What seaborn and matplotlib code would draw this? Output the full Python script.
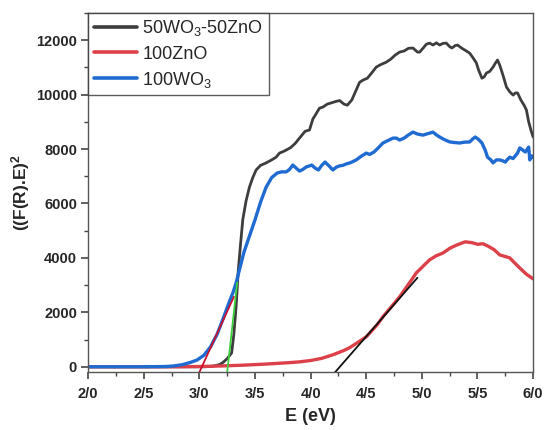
import matplotlib
matplotlib.use("Agg")
import matplotlib.pyplot as plt
from matplotlib.ticker import MultipleLocator, FixedLocator, FixedFormatter
import numpy as np
import pandas as pd
import seaborn as sns

# Photon energy (eV) and (F(R).E)^2 for each sample
e_mix = [2.0, 2.5, 2.9, 3.05, 3.12, 3.18, 3.21, 3.25, 3.29, 3.31, 3.33, 3.35, 3.37, 3.39,
         3.42, 3.45, 3.48, 3.51, 3.55, 3.60, 3.65, 3.69, 3.72, 3.75, 3.78, 3.82, 3.86, 3.90,
         3.95, 3.99, 4.02, 4.05, 4.08, 4.11, 4.15, 4.19, 4.23, 4.26, 4.30, 4.33, 4.37, 4.41,
         4.44, 4.47, 4.51, 4.55, 4.59, 4.63, 4.68, 4.72, 4.76, 4.80, 4.84, 4.88, 4.92, 4.96,
         4.98, 5.01, 5.04, 5.07, 5.10, 5.13, 5.16, 5.19, 5.22, 5.25, 5.27, 5.30, 5.32, 5.36,
         5.40, 5.43, 5.46, 5.49, 5.51, 5.54, 5.56, 5.58, 5.61, 5.64, 5.66, 5.68, 5.70, 5.73,
         5.76, 5.79, 5.82, 5.84, 5.86, 5.89, 5.92, 5.94, 5.96, 5.98, 6.00]
f_mix = [0, 0, 0, 0, 20, 80, 150, 300, 510, 1200, 2200, 3560, 4500, 5400,
         6100, 6600, 6950, 7230, 7400, 7490, 7600, 7700, 7850, 7900, 7960, 8050, 8200, 8400,
         8650, 8700, 9100, 9300, 9500, 9540, 9650, 9700, 9750, 9780, 9650, 9610, 9800, 10170,
         10450, 10530, 10600, 10800, 11010, 11100, 11190, 11300, 11450, 11560, 11600, 11700, 11710, 11560,
         11560, 11700, 11850, 11890, 11820, 11900, 11820, 11880, 11890, 11760, 11710, 11800, 11820, 11700,
         11600, 11520, 11350, 11160, 10900, 10600, 10650, 10790, 10850, 11010, 11150, 11270, 11080, 10700,
         10280, 10100, 9980, 10060, 10060, 9800, 9600, 9430, 9000, 8700, 8440]

e_zno = [2.0, 2.5, 2.8, 3.0, 3.2, 3.4, 3.6, 3.8, 3.9, 4.0, 4.1, 4.2, 4.3, 4.35, 4.4, 4.5,
         4.6, 4.65, 4.7, 4.8, 4.9, 4.95, 5.0, 5.07, 5.13, 5.19, 5.25, 5.3, 5.35, 5.39, 5.45,
         5.5, 5.55, 5.6, 5.65, 5.7, 5.75, 5.79, 5.85, 5.88, 5.94, 6.0]
f_zno = [0, 0, 0, 10, 30, 60, 100, 150, 180, 230, 310, 440, 600, 700, 830, 1100,
         1550, 1840, 2080, 2570, 3150, 3450, 3650, 3930, 4080, 4180, 4350, 4450, 4530, 4590, 4560,
         4500, 4520, 4420, 4300, 4110, 4050, 4000, 3750, 3630, 3400, 3230]

e_wo3 = [2.0, 2.5, 2.7, 2.77, 2.85, 2.92, 2.98, 3.04, 3.10, 3.16, 3.22, 3.27, 3.30, 3.33,
         3.36, 3.40, 3.45, 3.50, 3.55, 3.60, 3.65, 3.70, 3.74, 3.78, 3.81, 3.84, 3.87, 3.90,
         3.93, 3.96, 3.99, 4.01, 4.04, 4.07, 4.10, 4.13, 4.16, 4.20, 4.23, 4.26, 4.29, 4.32,
         4.36, 4.41, 4.45, 4.50, 4.53, 4.57, 4.61, 4.65, 4.69, 4.74, 4.77, 4.80, 4.84, 4.88,
         4.92, 4.96, 5.01, 5.05, 5.10, 5.13, 5.16, 5.20, 5.25, 5.29, 5.34, 5.38, 5.43, 5.46,
         5.48, 5.51, 5.54, 5.57, 5.59, 5.62, 5.64, 5.67, 5.70, 5.73, 5.75, 5.77, 5.79, 5.82,
         5.86, 5.88, 5.91, 5.93, 5.96, 5.97, 5.99, 6.00]
f_wo3 = [0, 0, 10, 30, 80, 160, 250, 420, 730, 1200, 1840, 2400, 2700, 3080,
         3560, 4200, 4800, 5400, 6050, 6600, 6950, 7120, 7160, 7160, 7250, 7410, 7300, 7190,
         7250, 7340, 7380, 7410, 7300, 7230, 7400, 7520, 7400, 7230, 7330, 7380, 7400, 7450,
         7500, 7600, 7720, 7850, 7800, 7890, 8050, 8220, 8300, 8400, 8400, 8330, 8400, 8520,
         8620, 8550, 8510, 8560, 8620, 8520, 8440, 8350, 8260, 8240, 8220, 8250, 8260, 8380,
         8440, 8350, 8220, 7950, 7700, 7600, 7490, 7600, 7600, 7560, 7520, 7620, 7700, 7650,
         7850, 8040, 7950, 7890, 8070, 7600, 7750, 7700]

# Tauc-style extrapolation lines (start/end points)
tan_wo3_e = [3.00, 3.31]
tan_wo3_f = [-200, 2570]
tan_mix_e = [3.25, 3.34]
tan_mix_f = [-200, 3100]
tan_zno_e = [4.22, 4.96]
tan_zno_f = [-200, 3270]

x_ticks = [2.0, 2.5, 3.0, 3.5, 4.0, 4.5, 5.0, 5.5, 6.0]
x_tick_labels = ["2/0", "2/5", "3/0", "3/5", "4/0", "4/5", "5/0", "5/5", "6/0"]

labels = ["50WO$_3$-50ZnO", "100ZnO", "100WO$_3$"]
colors = ["#3d3d3d", "#dc4049", "#1f6bd1"]

sns.set_theme(style="ticks")
plt.rcParams["font.family"] = ["Liberation Sans", "DejaVu Sans"]
plt.rcParams["mathtext.default"] = "regular"

fig = plt.figure(figsize=(5.44, 4.30), dpi=100)
ax = fig.add_axes([0.162, 0.135, 0.818, 0.835])

series = [(e_mix, f_mix), (e_zno, f_zno), (e_wo3, f_wo3)]
widths = [2.0, 2.4, 2.4]
for (e, f), lab, c, lw in zip(series, labels, colors, widths):
    df = pd.DataFrame({"E": e, "F": f})
    sns.lineplot(data=df, x="E", y="F", ax=ax, color=c, lw=lw, label=lab,
                 sort=False, estimator=None)

for e, f, c in [(tan_wo3_e, tan_wo3_f, "#c8102e"),
                (tan_mix_e, tan_mix_f, "#3ccf3c"),
                (tan_zno_e, tan_zno_f, "#111111")]:
    sns.lineplot(x=e, y=f, ax=ax, color=c, lw=1.3, sort=False, estimator=None,
                 legend=False)

ax.set_xlim(2.0, 6.0)
ax.set_ylim(-190, 13000)
ax.xaxis.set_major_locator(FixedLocator(x_ticks))
ax.xaxis.set_major_formatter(FixedFormatter(x_tick_labels))
ax.xaxis.set_minor_locator(MultipleLocator(0.25))
ax.yaxis.set_major_locator(MultipleLocator(2000))
ax.yaxis.set_minor_locator(MultipleLocator(1000))

ax.tick_params(which="major", direction="out", length=5, width=1.2, color="#444444",
               labelsize=10.5, pad=3)
ax.tick_params(axis="x", which="major", pad=6)
ax.tick_params(which="minor", direction="out", length=3, width=1.0, color="#444444")
for lbl in ax.get_xticklabels() + ax.get_yticklabels():
    lbl.set_fontweight("bold")
for s in ax.spines.values():
    s.set_visible(True)
    s.set_color("#555555")
    s.set_linewidth(1.0)

ax.set_xlabel("E (eV)", fontsize=13, fontweight="bold", labelpad=5)
ax.set_ylabel("((F(R).E)$^2$", fontsize=12.5, fontweight="bold", labelpad=3)

leg = ax.legend(loc="upper left", borderaxespad=0, fontsize=13, handlelength=2.4,
                handletextpad=0.3, labelspacing=0.4, borderpad=0.3,
                frameon=True, fancybox=False, edgecolor="#333333")
leg.get_frame().set_linewidth(1.0)
for ln in leg.get_lines():
    ln.set_linewidth(2.6)

fig.savefig("out.png", dpi=100)
